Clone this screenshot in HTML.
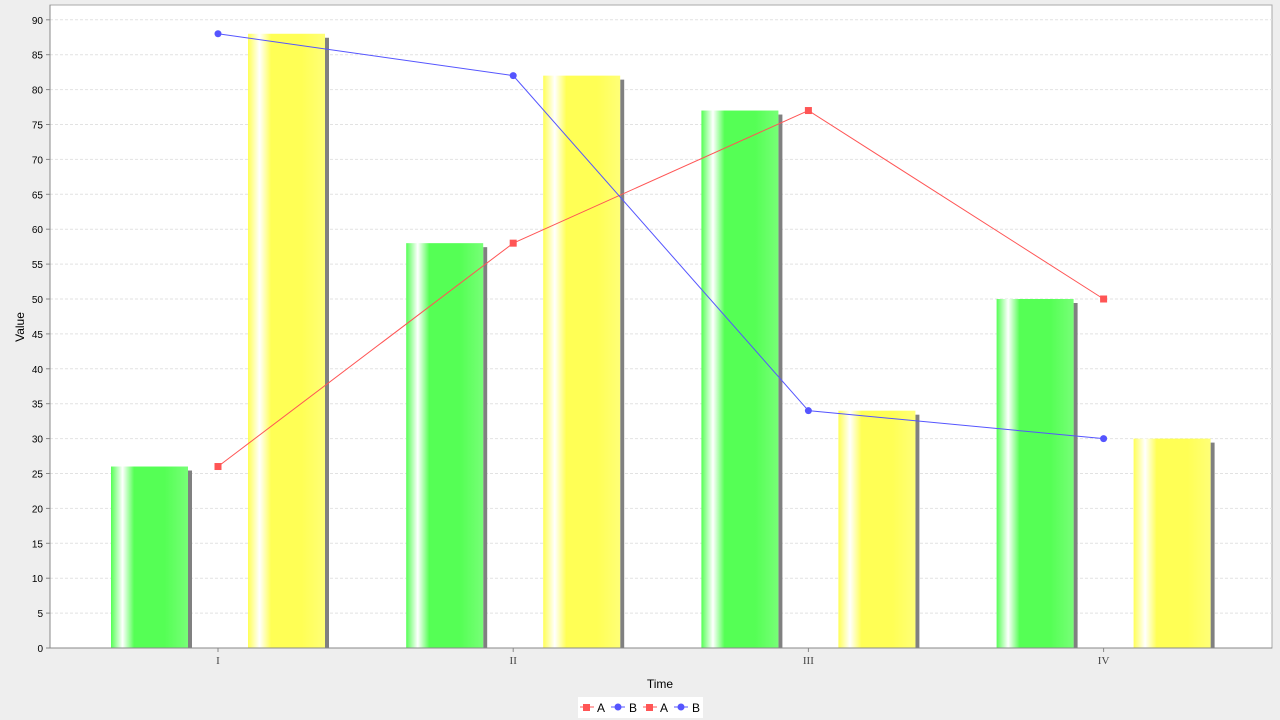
<!DOCTYPE html>
<html><head><meta charset="utf-8"><style>
body{margin:0;background:#eeeeee;font-family:"Liberation Sans",sans-serif;}
</style></head><body>
<svg id="c" width="1280" height="720" style="display:block">
<defs>
<linearGradient id="gg" x1="0" x2="1" y1="0" y2="0">
<stop offset="0" stop-color="#55ff55"/><stop offset="0.15" stop-color="#ffffff"/><stop offset="0.3" stop-color="#55ff55"/><stop offset="0.7" stop-color="#55ff55"/><stop offset="1" stop-color="#77ff77"/>
</linearGradient>
<linearGradient id="yg" x1="0" x2="1" y1="0" y2="0">
<stop offset="0" stop-color="#ffff55"/><stop offset="0.15" stop-color="#ffffff"/><stop offset="0.3" stop-color="#ffff55"/><stop offset="0.7" stop-color="#ffff55"/><stop offset="1" stop-color="#ffff77"/>
</linearGradient>
</defs>
<rect x="50" y="5" width="1222" height="643" fill="#fff" stroke="#aaa"/>
<g id="grid"></g><g id="bars"></g><g id="lines"></g><g id="axes"></g>
<text x="660" y="688" font-size="12" text-anchor="middle">Time</text>
<text x="24" y="327" font-size="12" text-anchor="middle" transform="rotate(-90 24 327)">Value</text>
<g>
<rect x="578" y="697" width="125" height="21" fill="#fff"/>
<g><line x1="580" x2="594" y1="707" y2="707" stroke="#ff5555"/><rect x="583" y="704" width="7" height="7" fill="#ff5555"/><text x="597" y="712" font-size="12">A</text></g>
<g><line x1="611" x2="625" y1="707" y2="707" stroke="#5555ff"/><circle cx="618" cy="707" r="3.5" fill="#5555ff"/><text x="629" y="712" font-size="12">B</text></g>
<g><line x1="643" x2="657" y1="707" y2="707" stroke="#ff5555"/><rect x="646" y="704" width="7" height="7" fill="#ff5555"/><text x="660" y="712" font-size="12">A</text></g>
<g><line x1="674" x2="688" y1="707" y2="707" stroke="#5555ff"/><circle cx="681" cy="707" r="3.5" fill="#5555ff"/><text x="692" y="712" font-size="12">B</text></g>
</g>
</svg>
<script>
const categories=["I","II","III","IV"];
const greenBars=[26,58,77,50];
const yellowBars=[88,82,34,30];
const lineA=[26,58,77,50];
const lineB=[88,82,34,30];
const yTicks=[0,5,10,15,20,25,30,35,40,45,50,55,60,65,70,75,80,85,90];
const NS="http://www.w3.org/2000/svg";
const X0=50,W=1222,Y0=648;
const y=v=>Y0-v*6.98;
const cx=i=>218+295.2*i;
function mk(t,a,p){const e=document.createElementNS(NS,t);for(const k in a)e.setAttribute(k,a[k]);p.appendChild(e);return e;}
const G=document.getElementById('grid'),B=document.getElementById('bars'),L=document.getElementById('lines'),A=document.getElementById('axes');
yTicks.forEach(v=>{
 if(v>0){const g=mk('line',{x1:X0,x2:X0+W,y1:y(v),y2:y(v),stroke:'#e2e2e2','stroke-dasharray':'3,2'},G);
 
 }
 mk('line',{x1:X0-4,x2:X0,y1:y(v),y2:y(v),stroke:'#888'},A);
 const t=mk('text',{x:X0-7,y:y(v)+4,'font-size':10,'text-anchor':'end'},A);t.textContent=v;
 
 
});
mk('line',{x1:X0,x2:X0,y1:5,y2:Y0,stroke:'#888'},A);
mk('line',{x1:X0,x2:X0+W,y1:Y0,y2:Y0,stroke:'#888'},A);
categories.forEach((c,i)=>{
 mk('line',{x1:cx(i),x2:cx(i),y1:Y0,y2:Y0+4,stroke:'#888'},A);
 const t=mk('text',{x:cx(i),y:664,'font-size':11,'text-anchor':'middle','font-family':'Liberation Serif, serif',fill:'#444'},A);t.textContent=c;
 
 
 const bw=77;
 [[greenBars,-107,'url(#gg)','green-bar'],[yellowBars,30,'url(#yg)','yellow-bar']].forEach(([arr,off,fill,nm])=>{
  const bx=cx(i)+off;
  mk('rect',{x:bx+bw,y:y(arr[i])+4,width:4,height:Y0-y(arr[i])-4,fill:'#808080'},B);
  const r=mk('rect',{x:bx,y:y(arr[i]),width:bw,height:Y0-y(arr[i]),fill:fill},B);
  
  
 });
});
function line(arr,col,sq,nm){
 const pl=mk('polyline',{points:arr.map((v,i)=>cx(i)+','+y(v)).join(' '),fill:'none',stroke:col},L);
 
 
 arr.forEach((v,i)=>{
  const m=sq?mk('rect',{x:cx(i)-3.5,y:y(v)-3.5,width:7,height:7,fill:col},L):mk('circle',{cx:cx(i),cy:y(v),r:3.5,fill:col},L);
  
  
 });
}
line(lineA,'#ff5555',true,'line-a');
line(lineB,'#5555ff',false,'line-b');
</script>
</body></html>
